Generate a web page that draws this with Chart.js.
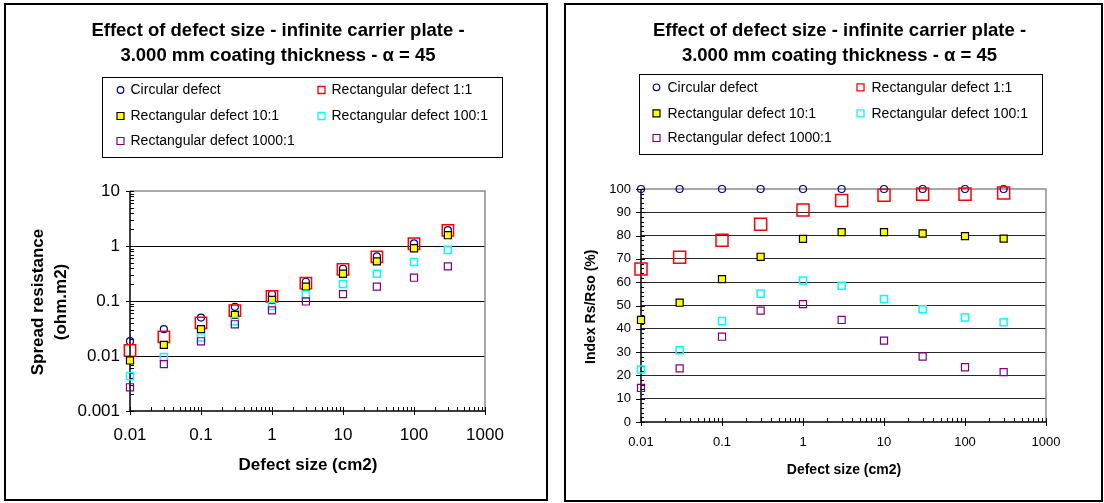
<!DOCTYPE html>
<html>
<head>
<meta charset="utf-8">
<script src="https://cdn.jsdelivr.net/npm/chart.js@4.4.1/dist/chart.umd.min.js"></script>
<style>
  body { margin: 0; background: #fff; width: 1104px; height: 503px; overflow: hidden; position: relative; }
  canvas { position: absolute; top: 0; }
  #graficoRes { left: 0; }
  #graficoIdx { left: 552px; }
  .marco { position: absolute; border: 2px solid #000; box-sizing: border-box; pointer-events: none; }
</style>
</head>
<body>
<div class="marco" style="left:4px;top:3px;width:544px;height:498px"></div>
<div class="marco" style="left:564px;top:3px;width:539px;height:499px"></div>
<canvas id="graficoRes" width="552" height="503"></canvas>
<canvas id="graficoIdx" width="552" height="503"></canvas>
<script>
// Datos
const tamanos = [0.01, 0.03, 0.1, 0.3, 1, 3, 10, 30, 100, 300];
const series = ['Circular defect', 'Rectangular defect 1:1', 'Rectangular defect 10:1',
                'Rectangular defect 100:1', 'Rectangular defect 1000:1'];
const etiquetasX = ['0.01', '0.1', '1', '10', '100', '1000'];
const etiquetasYRes = ['0.001', '0.01', '0.1', '1', '10'];
const etiquetasYIdx = ['0', '10', '20', '30', '40', '50', '60', '70', '80', '90', '100'];

// Resistencia de dispersión (ohm.m2)
const resCircular = [0.0186, 0.0308, 0.050, 0.0784, 0.134, 0.224, 0.386, 0.649, 1.12, 1.95];
const resRect1 = [0.0126, 0.0223, 0.040, 0.067, 0.121, 0.212, 0.377, 0.636, 1.10, 1.92];
const resRect10 = [0.0083, 0.0159, 0.0308, 0.0558, 0.105, 0.183, 0.313, 0.524, 0.91, 1.57];
const resRect100 = [0.0043, 0.0096, 0.0218, 0.043, 0.081, 0.131, 0.203, 0.312, 0.51, 0.85];
const resRect1000 = [0.0027, 0.0071, 0.0185, 0.0377, 0.0675, 0.098, 0.133, 0.183, 0.265, 0.425];

// Índice Rs/Rso (%)
const idxCircular = [100, 100, 100, 100, 100, 100, 100, 100, 100, 100];
const idxRect1 = [65.7, 70.7, 78.0, 84.9, 91.0, 95.1, 97.3, 97.8, 97.8, 98.3];
const idxRect10 = [43.8, 51.2, 61.3, 70.9, 78.6, 81.5, 81.5, 80.9, 79.8, 78.7];
const idxRect100 = [22.5, 30.8, 43.3, 55.1, 60.7, 58.5, 52.8, 48.4, 44.9, 42.8];
const idxRect1000 = [14.6, 23.0, 36.6, 47.8, 50.6, 43.8, 34.9, 28.1, 23.5, 21.4];

const fuente = '"Liberation Sans", Arial, Helvetica, sans-serif';
Chart.defaults.font.family = fuente;
Chart.defaults.color = '#000';

const puntos = arr => tamanos.map((x, i) => ({ x: x, y: arr[i] }));

// Conjuntos de datos con el estilo de marcadores de Excel
function conjuntos(valores, radioRojo) {
    const estilos = [
        { pointStyle: 'circle', pointRadius: 3.5, borderColor: '#000080', backgroundColor: 'rgba(0,0,0,0)', borderWidth: 1.2 },
        { pointStyle: 'rect', pointRadius: radioRojo, borderColor: '#ff0000', backgroundColor: 'rgba(0,0,0,0)', borderWidth: 1.5 },
        { pointStyle: 'rect', pointRadius: 5, borderColor: '#000000', backgroundColor: '#ffff00', borderWidth: 1.2 },
        { pointStyle: 'rect', pointRadius: 5, borderColor: '#00ffff', backgroundColor: 'rgba(0,0,0,0)', borderWidth: 1.5 },
        { pointStyle: 'rect', pointRadius: 5, borderColor: '#800080', backgroundColor: 'rgba(0,0,0,0)', borderWidth: 1.2 }
    ];
    return valores.map((v, i) => Object.assign({
        label: series[i],
        data: puntos(v),
        showLine: false,
        clip: false,
        order: valores.length - i,
        pointHoverRadius: estilos[i].pointRadius
    }, estilos[i]));
}

function linea(ctx, x1, y1, x2, y2) {
    ctx.beginPath();
    ctx.moveTo(x1, y1);
    ctx.lineTo(x2, y2);
    ctx.stroke();
}

// Marca de eje: "dentro" hacia el área de trazado, "fuera" hacia afuera
function marca(ctx, eje, p, a, dentro, fuera) {
    p = Math.round(p) + 0.5;
    if (eje === 'x') linea(ctx, p, a.bottom - dentro, p, a.bottom + fuera);
    else linea(ctx, a.left + dentro, p, a.left - fuera, p);
}

function marcasLog(ctx, s, eje, a) {
    const e0 = Math.round(Math.log10(s.min)), e1 = Math.round(Math.log10(s.max));
    for (let e = e0; e <= e1; e++) {
        const base = Math.pow(10, e);
        marca(ctx, eje, s.getPixelForValue(base), a, 4, 4);
        if (e < e1) {
            for (let k = 2; k < 10; k++) marca(ctx, eje, s.getPixelForValue(base * k), a, 4, 0);
        }
    }
}

function marcasLin(ctx, s, a) {
    for (let v = s.min; v <= s.max; v += 2) {
        if (v % 10 === 0) marca(ctx, 'y', s.getPixelForValue(v), a, 4, 5);
        else marca(ctx, 'y', s.getPixelForValue(v), a, 3, 0);
    }
}

function marcador(ctx, ds, x, y) {
    ctx.save();
    ctx.lineWidth = Math.min(ds.borderWidth, 1.3);
    ctx.strokeStyle = ds.borderColor;
    ctx.fillStyle = ds.backgroundColor;
    ctx.beginPath();
    if (ds.pointStyle === 'circle') ctx.arc(x, y, 3.3, 0, 2 * Math.PI);
    else ctx.rect(x - 3.5, y - 3.5, 7, 7);
    ctx.fill();
    ctx.stroke();
    ctx.restore();
}

// Plugin: bordes del área, ejes, marcas, título, leyenda y títulos de ejes
const decoracionExcel = {
    id: 'decoracionExcel',
    beforeDatasetsDraw(chart, args, o) {
        const ctx = chart.ctx, a = chart.chartArea;
        ctx.save();
        ctx.strokeStyle = '#8c8c8c';
        ctx.lineWidth = 1.5;
        ctx.beginPath();
        ctx.moveTo(a.left, a.top);
        ctx.lineTo(a.right, a.top);
        ctx.lineTo(a.right, a.bottom);
        ctx.stroke();
        ctx.strokeStyle = '#000';
        ctx.lineWidth = 1.5;
        ctx.beginPath();
        ctx.moveTo(a.left, a.top);
        ctx.lineTo(a.left, a.bottom);
        ctx.lineTo(a.right, a.bottom);
        ctx.stroke();
        ctx.lineWidth = 1;
        marcasLog(ctx, chart.scales.x, 'x', a);
        if (chart.scales.y.type === 'logarithmic') marcasLog(ctx, chart.scales.y, 'y', a);
        else marcasLin(ctx, chart.scales.y, a);
        ctx.restore();
    },
    afterDraw(chart, args, o) {
        const ctx = chart.ctx;
        ctx.save();
        ctx.fillStyle = '#000';
        ctx.textBaseline = 'middle';

        // Título
        ctx.textAlign = 'center';
        ctx.font = 'bold 18.5px ' + fuente;
        o.titulo.forEach((t, i) => ctx.fillText(t, o.tituloX, o.tituloY[i]));

        // Leyenda
        const L = o.leyenda;
        ctx.strokeStyle = '#000';
        ctx.lineWidth = 1;
        ctx.strokeRect(L.x + 0.5, L.y + 0.5, L.w, L.h);
        ctx.textAlign = 'left';
        ctx.font = '14px ' + fuente;
        chart.data.datasets.forEach((ds, i) => {
            const mx = L.columnas[i % 2], my = L.filas[Math.floor(i / 2)];
            marcador(ctx, ds, mx, my);
            ctx.fillText(ds.label, mx + L.separacion, my + 0.5);
        });

        // Títulos de ejes
        ctx.textAlign = 'center';
        ctx.font = 'bold ' + o.tamTituloEje + 'px ' + fuente;
        ctx.fillText(o.tituloX_eje, o.ejeXPos[0], o.ejeXPos[1]);
        o.tituloY_eje.forEach((t, i) => {
            ctx.save();
            ctx.translate(o.ejeYPos[i], o.ejeYCentro);
            ctx.rotate(-Math.PI / 2);
            ctx.fillText(t, 0, 0);
            ctx.restore();
        });
        ctx.restore();
    }
};

function ejeX(relleno, tam) {
    return {
        type: 'logarithmic', min: 0.01, max: 1000,
        afterBuildTicks: s => { s.ticks = etiquetasX.map(t => ({ value: Number(t) })); },
        afterFit: s => { s.height = 40; },
        ticks: { autoSkip: false, maxRotation: 0, padding: relleno, font: { size: tam },
                 callback: (v, i) => etiquetasX[i] },
        grid: { display: false, drawTicks: false },
        border: { display: false }
    };
}

const titulo = ['Effect of defect size - infinite carrier plate -',
                '3.000 mm coating thickness - \u03b1 = 45'];

// Gráfico izquierdo: resistencia de dispersión (escala logarítmica)
new Chart(document.getElementById('graficoRes'), {
    type: 'scatter',
    data: { datasets: conjuntos([resCircular, resRect1, resRect10, resRect100, resRect1000], 8) },
    plugins: [decoracionExcel],
    options: {
        responsive: false,
        animation: false,
        events: [],
        layout: { padding: { left: 64, right: 67, top: 191, bottom: 52 } },
        scales: {
            x: ejeX(14, 17),
            y: {
                type: 'logarithmic', min: 0.001, max: 10,
                afterBuildTicks: s => { s.ticks = etiquetasYRes.map(t => ({ value: Number(t) })); },
                afterFit: s => { s.width = 66; },
                ticks: { autoSkip: false, padding: 10, font: { size: 17 },
                         callback: (v, i) => etiquetasYRes[i] },
                grid: { drawTicks: false, lineWidth: 1,
                        color: c => (c.index > 0 && c.index < etiquetasYRes.length - 1) ? '#000' : 'rgba(0,0,0,0)' },
                border: { display: false }
            }
        },
        plugins: {
            legend: { display: false },
            title: { display: false },
            tooltip: { enabled: false },
            decoracionExcel: {
                titulo: titulo, tituloX: 278, tituloY: [31, 55.5],
                leyenda: { x: 102, y: 77, w: 400, h: 80, columnas: [120.5, 321.5], filas: [90, 116, 141], separacion: 10 },
                tamTituloEje: 17,
                tituloX_eje: 'Defect size (cm2)', ejeXPos: [308, 465],
                tituloY_eje: ['Spread resistance', '(ohm.m2)'], ejeYPos: [38.7, 61.6], ejeYCentro: 302
            }
        }
    }
});

// Gráfico derecho: índice Rs/Rso (%)
new Chart(document.getElementById('graficoIdx'), {
    type: 'scatter',
    data: { datasets: conjuntos([idxCircular, idxRect1, idxRect10, idxRect100, idxRect1000], 8.5) },
    plugins: [decoracionExcel],
    options: {
        responsive: false,
        animation: false,
        events: [],
        layout: { padding: { left: 39, right: 58, top: 189, bottom: 41 } },
        scales: {
            x: ejeX(13, 13),
            y: {
                type: 'linear', min: 0, max: 100,
                afterBuildTicks: s => { s.ticks = etiquetasYIdx.map(t => ({ value: Number(t) })); },
                afterFit: s => { s.width = 50; },
                ticks: { autoSkip: false, padding: 10, font: { size: 13 },
                         callback: (v, i) => etiquetasYIdx[i] },
                grid: { drawTicks: false, lineWidth: 1,
                        color: c => (c.index > 0 && c.index < etiquetasYIdx.length - 1) ? '#2a2a2a' : 'rgba(0,0,0,0)' },
                border: { display: false }
            }
        },
        plugins: {
            legend: { display: false },
            title: { display: false },
            tooltip: { enabled: false },
            decoracionExcel: {
                titulo: titulo, tituloX: 287.5, tituloY: [31, 55.5],
                leyenda: { x: 87, y: 74, w: 403, h: 80, columnas: [104.5, 308.5], filas: [87.3, 113.3, 138], separacion: 11 },
                tamTituloEje: 14,
                tituloX_eje: 'Defect size (cm2)', ejeXPos: [292, 470],
                tituloY_eje: ['Index Rs/Rso (%)'], ejeYPos: [39.4], ejeYCentro: 306.7
            }
        }
    }
});
</script>
</body>
</html>
